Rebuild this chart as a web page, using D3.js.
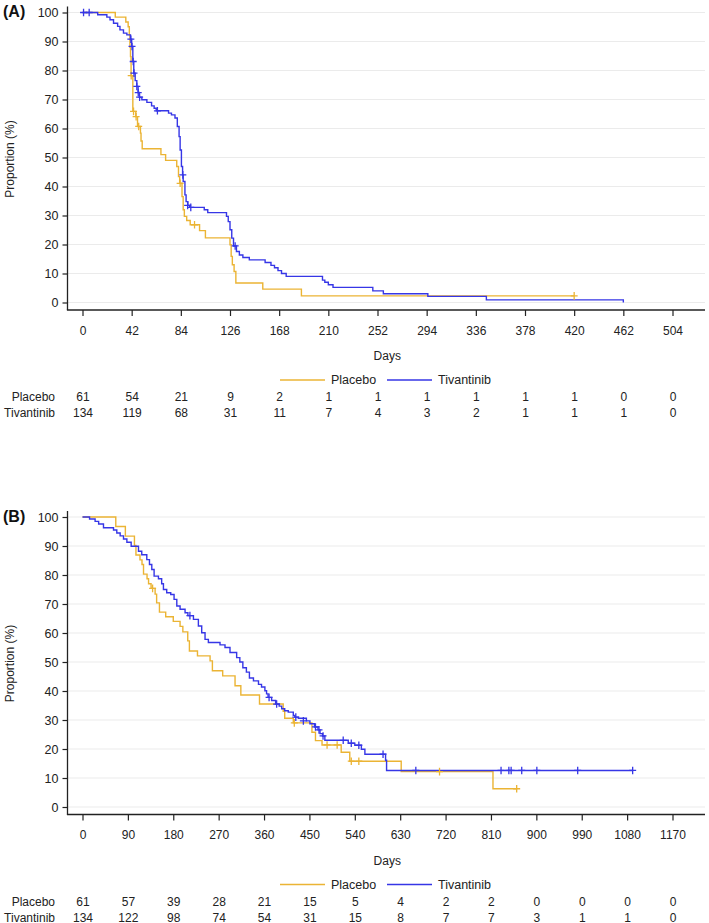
<!DOCTYPE html>
<html><head><meta charset="utf-8">
<script src="https://cdn.jsdelivr.net/npm/d3@7"></script>
<style>
html,body{margin:0;padding:0;background:#fff;}
svg{display:block;font-family:"Liberation Sans",Arial,sans-serif;}
</style></head><body>
<svg id="chart" width="709" height="923"></svg>
<script>
// ---------- DATA ----------
const seriesNames = ["Placebo", "Tivantinib"];
const seriesColors = ["#EBB434", "#3636E6"];
const yTicks = [0,10,20,30,40,50,60,70,80,90,100];

// Panel A
const xTicksA = [0,42,84,126,168,210,252,294,336,378,420,462,504];
const placeboRiskA = [61,54,21,9,2,1,1,1,1,1,1,0,0];
const tivRiskA = [134,119,68,31,11,7,4,3,2,1,1,1,0];
const placeboStepsA = [[0,100],[28,98.4],[37,96.7],[39,95.1],[40,92.3],[40.5,88],[41,84.8],[41.5,78.2],[43,65.9],[45.5,64.1],[47,60.7],[49.5,58.4],[50,55.7],[51,53],[67,51],[71,49],[80.5,46.9],[82,43.4],[83,41.1],[85,36.5],[86,32],[87,29.7],[89,28.3],[92,26.8],[100,24.8],[105,22.3],[126,19.9],[127,15.9],[128,13],[129.5,10.7],[131,6.7],[154,4.6],[187,2.3],[420,2.3]];
const placeboCensorA = [[41.6,78.2],[43.6,65.9],[45.8,64.1],[48,60.7],[83.4,41.1],[95.7,26.8],[420,2.3]];
const tivStepsA = [[0,100],[13,99.2],[20.8,98.4],[23.5,97.5],[26.5,96.3],[30,95.2],[32,94],[35,92.9],[37.9,92.3],[41,90.8],[42,88.3],[43,83.1],[43.8,79.1],[45,76.5],[46.4,74.5],[47.5,72.4],[48.5,70.8],[50.7,69.9],[55,69],[59,67.8],[61.2,67],[63,66.1],[73.5,65.3],[76,64.7],[79,63.6],[81,60.7],[82.5,57.2],[83.4,52.6],[84.5,46.9],[85.5,44],[86,41.7],[87.5,37.1],[88.5,34.8],[90,33.5],[91.5,32.8],[104,32],[107,31],[123,29.7],[124.5,27.9],[126,25.1],[127.5,22.2],[129,19.5],[131.5,17.6],[134,16.4],[137,15.5],[142.5,14.7],[156,13.8],[161,12.8],[164,12],[167,11],[170,10],[174,9],[205,7.7],[207,7],[210,6.1],[214,5.2],[248,4],[257,3],[295,2.1],[345,0.9],[462,0]];
const tivCensorA = [[0.9,100],[5.7,100],[41.3,90.8],[42.3,88.3],[43.3,83.1],[44,79.1],[46.4,74.5],[47.6,72.4],[48.8,70.8],[64,66.1],[85.7,44],[89.8,33.5],[92.5,32.8],[130.4,19.5]];

// Panel B
const xTicksB = [0,90,180,270,360,450,540,630,720,810,900,990,1080,1170];
const placeboRiskB = [61,57,39,28,21,15,5,4,2,2,0,0,0,0];
const tivRiskB = [134,122,98,74,54,31,15,8,7,7,3,1,1,0];
const placeboStepsB = [[0,100],[66,96.7],[85,93.4],[103,90.2],[106,86.9],[114,85.2],[118,83.6],[121,80.3],[128,78.7],[131,77],[136,75.4],[144,73.4],[147,70.4],[152.6,67.2],[165,65.6],[180,64],[193.5,62.3],[199,60.4],[208.7,57.3],[212,53.8],[228,52.1],[253,50.4],[257.6,47],[278,45.2],[302.5,41.8],[314,38.6],[351,35.5],[398,33],[401,30.6],[418,29],[455,25.8],[462,22.9],[475,21.4],[513,18.9],[530,15.8],[632,12.2],[814,6.3],[862,6.3]];
const placeboCensorB = [[139,75.4],[420,29],[485,21.4],[505,21.4],[533,15.8],[548,15.8],[708,12.2],[861,6.3]];
const tivStepsB = [[0,100],[14,99.3],[25,98.5],[32,97.6],[41.6,96.3],[61.5,95.5],[68,94.5],[74.7,93.5],[81.3,92.4],[88,91.3],[96.5,89.9],[111,88.2],[117.5,87],[127.5,85.3],[132.8,83.6],[137.4,81.9],[142,79.6],[150.6,78.7],[157,77],[160.5,75],[167,73.9],[175,73.3],[181.6,71.6],[187,69.3],[193.5,68.2],[203.4,67],[209,66],[220,64.7],[229.8,62.4],[236.4,60.1],[243,57.8],[249.6,56.7],[272.7,55.9],[282.6,55],[292.5,53.3],[305.7,51.5],[312,50],[318,48],[325,46.5],[331,44.5],[339,43.5],[349,42.3],[355,41.4],[361.7,40.1],[365,39],[368,37.8],[375,36.7],[383,35.5],[390,34.8],[395,33.9],[401,33.2],[408,32.7],[418,31.6],[421,31],[428,30.6],[444,29.7],[451,28.7],[460,27.6],[467,26.6],[471,25.3],[476,24.5],[480.6,23],[527,22],[540,21.3],[553,19.9],[560,18.2],[601,16.1],[603,12.6],[1091,12.6]];
const tivCensorB = [[213,66],[370,37.8],[385,35.5],[423,31],[438,29.7],[462,27.6],[469,26.6],[477,24.5],[517,23],[533,22],[548,21.3],[596,18.2],[661,12.6],[830,12.6],[845.5,12.6],[850,12.6],[871,12.6],[901,12.6],[982,12.6],[1091,12.6]];

const panels = [
  {label:"(A)", offset:0, xMax:504, ticks:xTicksA, steps:[placeboStepsA, tivStepsA], censors:[placeboCensorA, tivCensorA], risk:[placeboRiskA, tivRiskA]},
  {label:"(B)", offset:504.5, xMax:1170, ticks:xTicksB, steps:[placeboStepsB, tivStepsB], censors:[placeboCensorB, tivCensorB], risk:[placeboRiskB, tivRiskB]}
];

// ---------- DRAW ----------
const svg = d3.select("#chart");
const axisColor = "#222";

panels.forEach(p => {
  const g = svg.append("g").attr("transform", `translate(0,${p.offset})`);
  const x = d3.scaleLinear().domain([0, p.xMax]).range([82.5, 672.5]);
  const y = d3.scaleLinear().domain([0, 100]).range([302.5, 12.5]);
  const axisY = 310;
  const left = 67.5, right = 705;

  // gridlines
  g.append("g").selectAll("line").data(yTicks).join("line")
    .attr("x1", left).attr("x2", right)
    .attr("y1", d => y(d)).attr("y2", d => y(d))
    .attr("stroke", "#ebebeb").attr("stroke-width", 1);

  // y axis
  const ya = g.append("g").attr("transform", `translate(${left},0)`)
    .call(d3.axisLeft(y).tickValues(yTicks).tickSize(5).tickPadding(4).tickSizeOuter(0));
  ya.select(".domain").remove();
  ya.selectAll(".tick line").attr("stroke", axisColor).attr("stroke-width", 1.2);
  ya.selectAll("text").attr("font-size", 12.5).attr("fill", "#222").attr("font-family", "Liberation Sans, Arial, sans-serif");
  g.append("line").attr("x1", left).attr("x2", left).attr("y1", 6.5).attr("y2", axisY)
    .attr("stroke", axisColor).attr("stroke-width", 1.3);

  // x axis
  const xa = g.append("g").attr("transform", `translate(0,${axisY})`)
    .call(d3.axisBottom(x).tickValues(p.ticks).tickFormat(d3.format("d")).tickSize(6).tickPadding(10).tickSizeOuter(0));
  xa.select(".domain").remove();
  xa.selectAll(".tick line").attr("stroke", axisColor).attr("stroke-width", 1.2);
  xa.selectAll("text").attr("font-size", 12).attr("fill", "#222").attr("font-family", "Liberation Sans, Arial, sans-serif");
  g.append("line").attr("x1", left - 0.6).attr("x2", right).attr("y1", axisY).attr("y2", axisY)
    .attr("stroke", axisColor).attr("stroke-width", 1.3);

  // axis titles
  g.append("text").attr("x", (left + right) / 2 + 1).attr("y", axisY + 50)
    .attr("text-anchor", "middle").attr("font-size", 12).attr("fill", "#222").text("Days");
  g.append("text").attr("transform", `translate(14,159) rotate(-90)`)
    .attr("text-anchor", "middle").attr("font-size", 12).attr("fill", "#222").text("Proportion (%)");
  g.append("text").attr("x", 3).attr("y", 17).attr("font-size", 16).attr("font-weight", "bold")
    .attr("fill", "#111").text(p.label);

  // curves
  const line = d3.line().x(d => x(d[0])).y(d => y(d[1])).curve(d3.curveStepAfter);
  p.steps.forEach((s, i) => {
    g.append("path").datum(s).attr("d", line).attr("fill", "none")
      .attr("stroke", seriesColors[i]).attr("stroke-width", 1.4);
  });
  p.censors.forEach((c, i) => {
    g.append("g").selectAll("path").data(c).join("path")
      .attr("d", d => { const cx = x(d[0]), cy = y(d[1]);
        return `M${cx-3.5},${cy}H${cx+3.5}M${cx},${cy-3.8}V${cy+3.8}`; })
      .attr("stroke", seriesColors[i]).attr("stroke-width", 1.3).attr("fill", "none");
  });

  // legend
  const leg = g.append("g").attr("transform", `translate(0,${axisY + 70})`);
  const legItems = [{x1: 280, x2: 325, tx: 331}, {x1: 387, x2: 432, tx: 438}];
  legItems.forEach((li, i) => {
    leg.append("line").attr("x1", li.x1).attr("x2", li.x2).attr("y1", 0).attr("y2", 0)
      .attr("stroke", seriesColors[i]).attr("stroke-width", 1.5);
    leg.append("text").attr("x", li.tx).attr("y", 4.3).attr("font-size", 12.5)
      .attr("fill", "#222").text(seriesNames[i]);
  });

  // number at risk table
  p.risk.forEach((r, i) => {
    const ry = axisY + 91 + i * 16;
    g.append("text").attr("x", 55).attr("y", ry).attr("text-anchor", "end")
      .attr("font-size", 12).attr("fill", "#222").text(seriesNames[i]);
    g.append("g").selectAll("text").data(r).join("text")
      .attr("x", (d, j) => x(p.ticks[j]) + 0.5).attr("y", ry)
      .attr("text-anchor", "middle").attr("font-size", 12).attr("fill", "#222")
      .text(d => d);
  });
});
</script>
</body></html>
